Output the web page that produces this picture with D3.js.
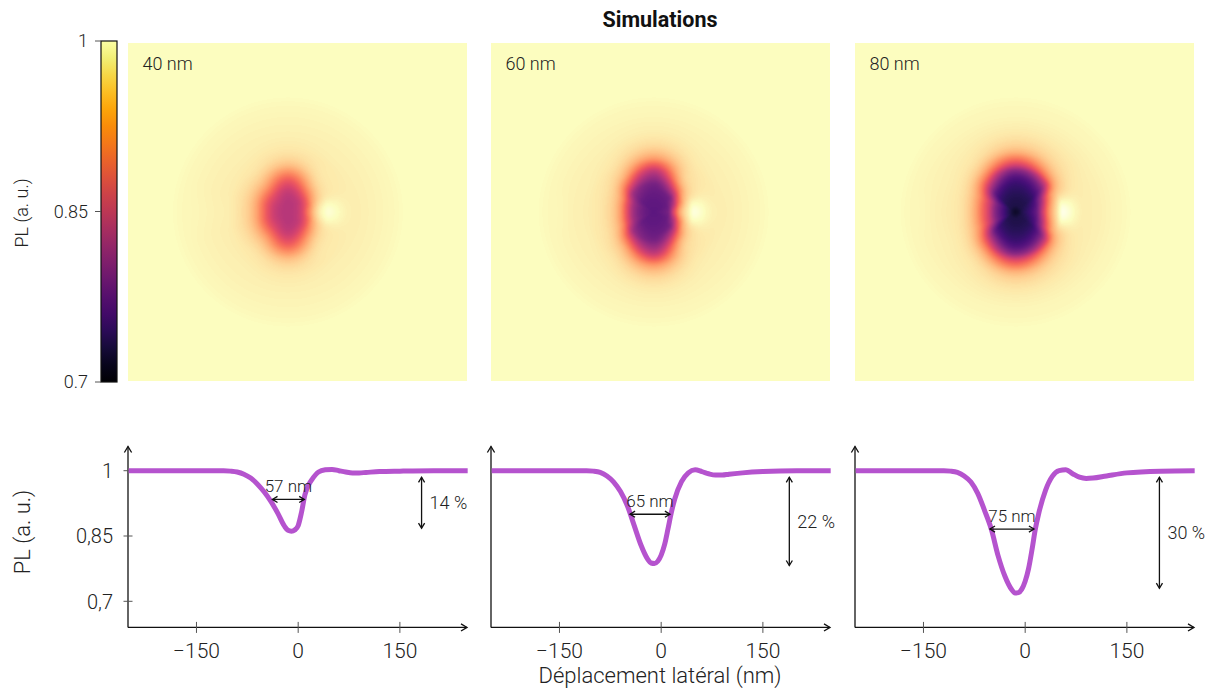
<!DOCTYPE html>
<html><head><meta charset="utf-8">
<script src="https://cdn.jsdelivr.net/npm/d3@7"></script>
<style>
body{margin:0;background:#fff}
text{font-family:Roboto,"DejaVu Sans",sans-serif;fill:#222}
</style></head>
<body><svg id="chart" width="1215" height="695"></svg>
<script>
// ---------------- data ----------------
const panelLabels = ["40 nm", "60 nm", "80 nm"];
const mapCenters = [-14, -10, -13];               // nm, x of the dark spot centre
const mapAngles = [0, 25, 45, 90, 135, 160, 180]; // degrees (0 = right)
const mapRadii = [0, 10, 20, 30, 40, 50, 60, 70, 80, 90, 100, 120, 140, 160, 180]; // nm
// PL (a. u.) along each angle, read from the maps
const map40 = [
  [0.85,0.854,0.874,0.92,0.968,0.996,1.007,1.002,0.995,0.991,0.99,0.992,0.994,0.997,1],
  [0.85,0.854,0.868,0.9,0.945,0.972,0.984,0.987,0.988,0.989,0.99,0.992,0.994,0.997,1],
  [0.85,0.852,0.86,0.885,0.922,0.955,0.975,0.984,0.987,0.988,0.99,0.992,0.994,0.997,1],
  [0.85,0.85,0.853,0.862,0.88,0.904,0.934,0.961,0.976,0.984,0.988,0.992,0.994,0.997,1],
  [0.85,0.852,0.862,0.882,0.912,0.943,0.965,0.978,0.985,0.988,0.99,0.992,0.994,0.997,1],
  [0.85,0.853,0.864,0.886,0.917,0.948,0.968,0.979,0.985,0.989,0.99,0.992,0.994,0.997,1],
  [0.85,0.853,0.865,0.889,0.922,0.952,0.97,0.98,0.987,0.99,0.991,0.993,0.995,0.997,1]
];
const map60 = [
  [0.784,0.79,0.802,0.88,0.952,0.988,1.01,1.004,0.995,0.991,0.99,0.992,0.994,0.997,1],
  [0.784,0.787,0.793,0.835,0.904,0.958,0.979,0.985,0.987,0.988,0.99,0.992,0.994,0.997,1],
  [0.784,0.786,0.79,0.802,0.856,0.916,0.958,0.976,0.982,0.986,0.989,0.992,0.994,0.997,1],
  [0.784,0.786,0.788,0.793,0.802,0.826,0.856,0.898,0.94,0.964,0.978,0.99,0.994,0.997,1],
  [0.784,0.786,0.79,0.805,0.829,0.88,0.928,0.961,0.976,0.984,0.988,0.992,0.994,0.997,1],
  [0.784,0.79,0.804,0.831,0.881,0.933,0.963,0.977,0.984,0.987,0.99,0.992,0.994,0.997,1],
  [0.784,0.79,0.805,0.835,0.889,0.94,0.967,0.979,0.985,0.988,0.99,0.992,0.995,0.997,1]
];
const map80 = [
  [0.724,0.742,0.76,0.79,0.865,0.934,0.979,1.014,1.006,0.995,0.99,0.991,0.994,0.997,1],
  [0.724,0.74,0.751,0.772,0.826,0.895,0.946,0.97,0.979,0.985,0.988,0.991,0.994,0.997,1],
  [0.724,0.739,0.743,0.752,0.772,0.808,0.865,0.928,0.961,0.976,0.983,0.99,0.994,0.997,1],
  [0.724,0.738,0.742,0.748,0.757,0.774,0.811,0.874,0.919,0.955,0.973,0.988,0.994,0.997,1],
  [0.724,0.739,0.746,0.758,0.784,0.835,0.889,0.934,0.964,0.979,0.986,0.991,0.994,0.997,1],
  [0.724,0.744,0.773,0.81,0.863,0.904,0.94,0.965,0.979,0.986,0.989,0.992,0.994,0.997,1],
  [0.724,0.745,0.775,0.814,0.871,0.91,0.946,0.97,0.982,0.987,0.989,0.992,0.995,0.997,1]
];
const maps = [map40, map60, map80];

// line profiles
const profileX = [-250,-200,-150,-120,-110,-100,-90,-80,-70,-60,-50,-40,-30,-20,-15,-10,-5,0,5,10,15,20,30,40,50,60,70,80,90,100,120,150,200,250];
const profile40 = [1,1,1,1,1,0.999,0.997,0.992,0.983,0.969,0.951,0.929,0.902,0.872,0.863,0.861,0.864,0.874,0.905,0.945,0.966,0.979,0.997,1.002,1.003,1.0,0.997,0.995,0.995,0.996,0.998,0.999,1,1];
const profile60 = [1,1,1,1,1,0.999,0.996,0.988,0.974,0.952,0.92,0.875,0.83,0.797,0.788,0.787,0.792,0.806,0.83,0.866,0.904,0.935,0.975,0.995,1.002,0.998,0.993,0.99,0.99,0.992,0.995,0.998,1,1];
const profile80 = [1,1,1,1,0.999,0.996,0.988,0.974,0.948,0.909,0.866,0.805,0.758,0.727,0.719,0.72,0.728,0.746,0.775,0.818,0.866,0.902,0.955,0.987,1.0,1.002,0.993,0.985,0.982,0.983,0.988,0.995,0.999,1];
const profiles = [profile40, profile60, profile80];

// ticks
const cbTicks = [0.7, 0.85, 1];
const cbTickLabels = ["0.7", "0.85", "1"];
const xTicks = [-150, 0, 150];
const xTickLabels = ["\u2212150", "0", "150"];
const yTicks = [0.7, 0.85, 1];
const yTickLabels = ["0,7", "0,85", "1"];

// annotations
const fwhmLabels = ["57 nm", "65 nm", "75 nm"];
const fwhmFrom = [-38, -46, -52];
const fwhmTo = [9, 13, 13];
const fwhmLevel = [0.934, 0.9, 0.866];
const depthLabels = ["14 %", "22 %", "30 %"];
const depthX = [182, 189, 198];
const depthTop = [0.985, 0.985, 0.985];
const depthBottom = [0.868, 0.782, 0.73];

// ---------------- layout ----------------
const svg = d3.select("#chart");
const panelX = [128, 491, 855];
const panelW = 339;
const mapTop = 43, mapBottom = 381;

const hx = panelX.map(x0 => d3.scaleLinear().domain([-250, 250]).range([x0, x0 + panelW]));
const hy = d3.scaleLinear().domain([-250, 250]).range([mapBottom, mapTop]);
const lx = panelX.map(x0 => d3.scaleLinear().domain([-251, 249]).range([x0, x0 + panelW]));
const ly = d3.scaleLinear().domain([0.7, 1]).range([601.3, 470.7]);
const axisY = ly(0.64);
const axisTop = 446.5;

// colour
const mapColor = d3.scaleSequential(d3.interpolateMagma).domain([0.7, 1]);
const whiteMix = d3.interpolateRgb(d3.interpolateMagma(1), "#ffffff");
function plColor(v) {
  if (v <= 1) return mapColor(Math.max(0.7, v));
  return whiteMix(Math.min(1, (v - 1) / 0.014) * 0.6);
}
const lutN = 1200, lutMin = 0.7, lutMax = 1.03;
const lut = d3.range(lutN).map(k => d3.rgb(plColor(lutMin + (lutMax - lutMin) * k / (lutN - 1))));

// monotone cubic (Fritsch-Butland) interpolation, zero slope at both ends
function monoAt(xs, ys, x) {
  const n = xs.length;
  if (x <= xs[0]) return ys[0];
  if (x >= xs[n - 1]) return ys[n - 1];
  let i = 0;
  while (i < n - 2 && x >= xs[i + 1]) i++;
  const tan = k => {
    if (k === 0 || k === n - 1) return 0;
    const h0 = xs[k] - xs[k - 1], h1 = xs[k + 1] - xs[k];
    const d0 = (ys[k] - ys[k - 1]) / h0, d1 = (ys[k + 1] - ys[k]) / h1;
    if (d0 * d1 <= 0) return 0;
    return 3 * (h0 + h1) / ((2 * h1 + h0) / d0 + (h1 + 2 * h0) / d1);
  };
  const h = xs[i + 1] - xs[i], s = (x - xs[i]) / h;
  const s2 = s * s, s3 = s2 * s;
  return (2*s3 - 3*s2 + 1) * ys[i] + (s3 - 2*s2 + s) * h * tan(i) +
         (-2*s3 + 3*s2) * ys[i + 1] + (s3 - s2) * h * tan(i + 1);
}

function renderMap(p) {
  const w = panelW, h = mapBottom - mapTop;
  const cv = document.createElement("canvas");
  cv.width = w; cv.height = h;
  const ctx = cv.getContext("2d");
  const img = ctx.createImageData(w, h);
  const M = maps[p], xc = mapCenters[p];
  const rowVals = new Array(mapAngles.length);
  for (let j = 0; j < h; j++) {
    const yn = hy.invert(mapTop + j + 0.5);
    for (let i = 0; i < w; i++) {
      const xn = hx[p].invert(panelX[p] + i + 0.5);
      const dx = xn - xc, dy = Math.abs(yn);
      const r = Math.hypot(dx, dy);
      let v = 1;
      if (r < 180) {
        const th = Math.atan2(dy, dx) * 180 / Math.PI;
        for (let a = 0; a < mapAngles.length; a++) rowVals[a] = monoAt(mapRadii, M[a], r);
        v = monoAt(mapAngles, rowVals, th);
      }
      let k = Math.round((v - lutMin) / (lutMax - lutMin) * (lutN - 1));
      k = Math.max(0, Math.min(lutN - 1, k));
      const c = lut[k], o = (j * w + i) * 4;
      img.data[o] = c.r; img.data[o + 1] = c.g; img.data[o + 2] = c.b; img.data[o + 3] = 255;
    }
  }
  ctx.putImageData(img, 0, 0);
  return cv.toDataURL();
}

const defs = svg.append("defs");
defs.append("filter").attr("id", "soft").append("feGaussianBlur").attr("stdDeviation", 0.55);

// ---------------- title ----------------
svg.append("text").attr("x", 660).attr("y", 27).attr("text-anchor", "middle")
  .style("font-size", "21.5px").style("font-weight", "bold").style("fill", "#111").text("Simulations");

// ---------------- maps ----------------
panelX.forEach((x0, p) => {
  const g = svg.append("g");
  g.append("image").attr("href", renderMap(p))
    .attr("x", hx[p](-250)).attr("y", hy(250))
    .attr("width", hx[p](250) - hx[p](-250)).attr("height", hy(-250) - hy(250))
    .attr("preserveAspectRatio", "none");
  g.append("line").attr("x1", hx[p](-250)).attr("x2", hx[p](250))
    .attr("y1", hy(0)).attr("y2", hy(0))
    .attr("stroke", "#000").attr("stroke-width", 3.4).attr("stroke-dasharray", "13.5,13.5")
    .attr("filter", "url(#soft)");
  g.append("text").attr("x", x0 + 14.5).attr("y", 70).style("font-size", "18px").style("font-weight", 300)
    .text(panelLabels[p]);
});

// ---------------- colourbar ----------------
const cb = d3.scaleLinear().domain([0.7, 1]).range([382, 41]);
const cbColor = d3.scaleSequential(d3.interpolateInferno).domain([0.7, 1]);
const grad = defs.append("linearGradient").attr("id", "cbgrad")
  .attr("x1", 0).attr("y1", 1).attr("x2", 0).attr("y2", 0);
d3.range(0, 1.0001, 0.05).forEach(t => {
  grad.append("stop").attr("offset", t).attr("stop-color", cbColor(0.7 + 0.3 * t));
});
svg.append("rect").attr("x", 101).attr("y", cb(1)).attr("width", 16).attr("height", cb(0.7) - cb(1))
  .attr("fill", "url(#cbgrad)").attr("stroke", "#111").attr("stroke-width", 1.2);
const cbg = svg.append("g");
cbg.selectAll("line").data(cbTicks).join("line")
  .attr("x1", 95).attr("x2", 101).attr("y1", d => cb(d)).attr("y2", d => cb(d))
  .attr("stroke", "#555").attr("stroke-width", 1);
cbg.selectAll("text").data(cbTicks).join("text")
  .attr("x", 88).attr("y", d => cb(d)).attr("dy", "0.36em").attr("text-anchor", "end")
  .style("font-size", "18px").style("font-weight", 300).text((d, i) => cbTickLabels[i]);
svg.append("text").attr("transform", "translate(28,213) rotate(-90)").attr("text-anchor", "middle")
  .style("font-size", "18px").style("font-weight", 300).text("PL (a. u.)");

// ---------------- arrows helper ----------------
function chevron(g, x, y, ang, size) {
  const s = size || 1;
  g.append("path").attr("d", `M${-6*s},${-3.6*s} L0,0 L${-6*s},${3.6*s}`)
    .attr("transform", `translate(${x},${y}) rotate(${ang})`)
    .attr("fill", "none").attr("stroke", "#111").attr("stroke-width", 1.3);
}

// ---------------- profile plots ----------------
panelX.forEach((x0, p) => {
  const g = svg.append("g");
  const xs = lx[p];
  const yAxisX = xs(-251);
  const xEnd = x0 + panelW;
  g.append("line").attr("x1", yAxisX).attr("x2", yAxisX).attr("y1", axisY).attr("y2", axisTop)
    .attr("stroke", "#111").attr("stroke-width", 1.3);
  chevron(g, yAxisX, axisTop, -90);
  g.append("line").attr("x1", yAxisX).attr("x2", xEnd).attr("y1", axisY).attr("y2", axisY)
    .attr("stroke", "#111").attr("stroke-width", 1.3);
  chevron(g, xEnd, axisY, 0);
  g.selectAll(".xt").data(xTicks).join("line").attr("class", "xt")
    .attr("x1", d => xs(d)).attr("x2", d => xs(d)).attr("y1", axisY - 5.5).attr("y2", axisY + 5.5)
    .attr("stroke", "#555").attr("stroke-width", 1);
  g.selectAll(".xl").data(xTicks).join("text").attr("class", "xl")
    .attr("x", d => xs(d)).attr("y", 658).attr("text-anchor", "middle")
    .style("font-size", "21px").style("font-weight", 300).text((d, i) => xTickLabels[i]);
  if (p === 0) {
    g.selectAll(".yt").data(yTicks).join("line").attr("class", "yt")
      .attr("x1", yAxisX - 4.5).attr("x2", yAxisX + 4.5).attr("y1", d => ly(d)).attr("y2", d => ly(d))
      .attr("stroke", "#555").attr("stroke-width", 1);
    g.selectAll(".yl").data(yTicks).join("text").attr("class", "yl")
      .attr("x", 113).attr("y", d => ly(d)).attr("dy", "0.36em").attr("text-anchor", "end")
      .style("font-size", "20px").style("font-weight", 300).text((d, i) => yTickLabels[i]);
  }
  const line = d3.line().x(d => xs(d[0])).y(d => ly(d[1])).curve(d3.curveMonotoneX);
  g.append("path").datum(profileX.map((x, k) => [x, profiles[p][k]]))
    .attr("d", line).attr("fill", "none").attr("stroke", "#b553ce").attr("stroke-width", 5)
    .attr("stroke-linejoin", "round");
  const fy = ly(fwhmLevel[p]), fa = xs(fwhmFrom[p]), fb = xs(fwhmTo[p]);
  g.append("line").attr("x1", fa).attr("x2", fb).attr("y1", fy).attr("y2", fy)
    .attr("stroke", "#111").attr("stroke-width", 1.3);
  chevron(g, fa, fy, 180, 0.85); chevron(g, fb, fy, 0, 0.85);
  g.append("text").attr("x", (fa + fb) / 2).attr("y", fy - 7.5).attr("text-anchor", "middle")
    .style("font-size", "17px").style("font-weight", 300).text(fwhmLabels[p]);
  const dx = xs(depthX[p]), dt = ly(depthTop[p]), db = ly(depthBottom[p]);
  g.append("line").attr("x1", dx).attr("x2", dx).attr("y1", dt).attr("y2", db)
    .attr("stroke", "#111").attr("stroke-width", 1.3);
  chevron(g, dx, dt, -90, 0.85); chevron(g, dx, db, 90, 0.85);
  g.append("text").attr("x", dx + 8).attr("y", (dt + db) / 2).attr("dy", "0.36em")
    .style("font-size", "18px").style("font-weight", 300).text(depthLabels[p]);
});

svg.append("text").attr("transform", "translate(30,532) rotate(-90)").attr("text-anchor", "middle")
  .style("font-size", "22px").style("font-weight", 300).text("PL (a. u.)");
svg.append("text").attr("x", 660).attr("y", 683).attr("text-anchor", "middle")
  .style("font-size", "22px").style("font-weight", 300).text("Déplacement latéral (nm)");
</script>
</body></html>
